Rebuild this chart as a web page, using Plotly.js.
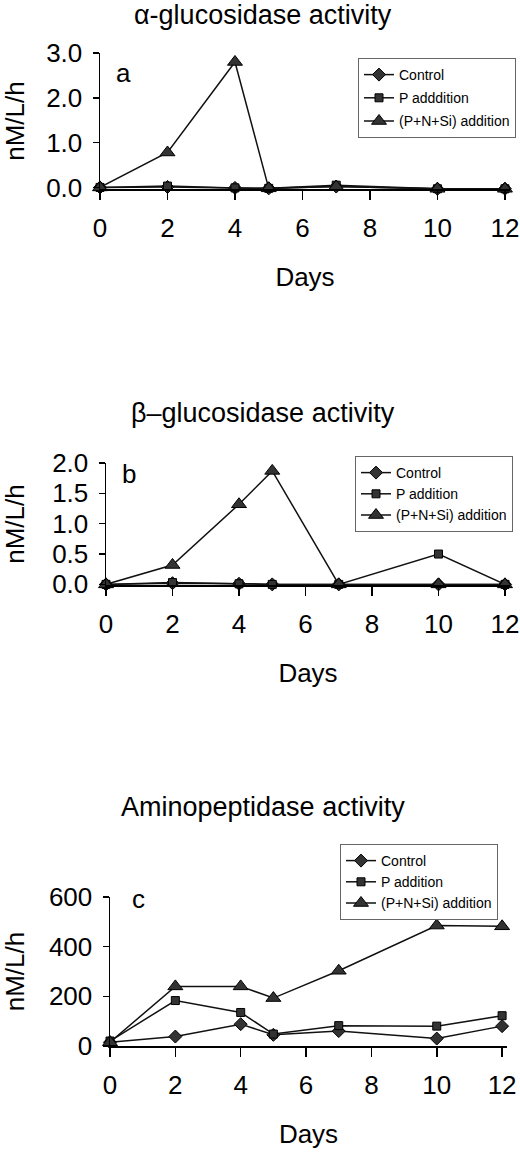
<!DOCTYPE html>
<html>
<head>
<meta charset="utf-8">
<script src="https://cdn.plot.ly/plotly-3.0.1.min.js"></script>
<style>
  body { margin: 0; background: #fff; }
  #chart { width: 520px; height: 1153px; }
</style>
</head>
<body>
<div id="chart"></div>
<script>
// sampling days (same for all three panels)
var days = [0, 2, 4, 5, 7, 10, 12];

// a: alpha-glucosidase
var alphaControl = [0, 0.01, -0.01, -0.02, 0.02, -0.03, -0.03];
var alphaP       = [0, 0.03, -0.01, -0.02, 0.05, -0.03, -0.03];
var alphaPNSi    = [0, 0.78, 2.80, -0.02, 0.02, -0.03, -0.03];

// b: beta-glucosidase
var betaControl = [0, 0.02, 0.01, 0, 0, 0, 0];
var betaP       = [0, 0.03, 0.01, 0, 0, 0.50, 0];
var betaPNSi    = [0, 0.32, 1.32, 1.87, 0, 0, 0];

// c: aminopeptidase
var aminoControl = [15, 38, 88, 45, 60, 30, 80];
var aminoP       = [20, 183, 135, 48, 82, 80, 122];
var aminoPNSi    = [15, 240, 240, 193, 303, 485, 482];

var legendNames = {
  a: ['Control', 'P adddition', '(P+N+Si) addition'],
  b: ['Control', 'P addition', '(P+N+Si) addition'],
  c: ['Control', 'P addition', '(P+N+Si) addition']
};

var W = 520, H = 1153;
function px(x) { return x / W; }
function py(y) { return 1 - y / H; }

var FONT = 'Liberation Sans, Arial, sans-serif';
var symbols = ['diamond', 'square', 'triangle-up'];
var sizes = [10, 8, 13];

function makeTraces(series, names, n) {
  var xa = n === 1 ? 'x' : 'x' + n;
  var ya = n === 1 ? 'y' : 'y' + n;
  var lg = n === 1 ? 'legend' : 'legend' + n;
  return series.map(function (vals, i) {
    return {
      x: days,
      y: vals,
      name: names[i],
      type: 'scatter',
      mode: 'lines+markers',
      xaxis: xa,
      yaxis: ya,
      legend: lg,
      // one group per trace so the legend gap can be tuned per panel
      legendgroup: 'p' + n + 'g' + i,
      cliponaxis: false,
      line: {color: '#111', width: 1.5},
      marker: {symbol: symbols[i], size: sizes[i], color: '#333', line: {color: '#000', width: 1}}
    };
  });
}

var data = []
  .concat(makeTraces([alphaControl, alphaP, alphaPNSi], legendNames.a, 1))
  .concat(makeTraces([betaControl, betaP, betaPNSi], legendNames.b, 2))
  .concat(makeTraces([aminoControl, aminoP, aminoPNSi], legendNames.c, 3));

function xAxis(left, right, anchor) {
  return {
    domain: [px(left), px(right)],
    anchor: anchor,
    range: [0, 12.15],
    tickvals: [0, 2, 4, 6, 8, 10, 12],
    ticks: 'outside',
    ticklen: 9,
    tickwidth: 1.5,
    tickcolor: '#000',
    ticklabelstandoff: 6,
    showline: true,
    linecolor: '#000',
    linewidth: 1.5,
    showgrid: false,
    zeroline: false,
    tickfont: {family: FONT, size: 26, color: '#000'},
    title: {text: 'Days', font: {family: FONT, size: 26, color: '#000'}, standoff: 26}
  };
}

function yAxis(top, bottom, anchor, range, tickvals, fmt) {
  return {
    domain: [py(bottom), py(top)],
    anchor: anchor,
    range: range,
    tickvals: tickvals,
    tickformat: fmt,
    ticks: 'outside',
    ticklen: 6,
    tickwidth: 1.5,
    tickcolor: '#000',
    ticklabelstandoff: 5,
    showline: true,
    linecolor: '#000',
    linewidth: 1.5,
    showgrid: false,
    zeroline: false,
    tickfont: {family: FONT, size: 26, color: '#000'},
    title: {text: 'nM/L/h', font: {family: FONT, size: 26, color: '#000'}, standoff: 22}
  };
}

function legendBox(x, y, gap) {
  return {
    x: px(x), y: py(y),
    xanchor: 'left', yanchor: 'top',
    bgcolor: '#fff',
    bordercolor: '#666',
    borderwidth: 1,
    tracegroupgap: gap,
    font: {family: FONT, size: 14, color: '#000'},
    itemwidth: 30
  };
}

function titleNote(text, y) {
  return {
    text: text, xref: 'paper', yref: 'paper', x: px(263), y: py(y),
    xanchor: 'center', yanchor: 'middle', showarrow: false,
    font: {family: FONT, size: 27, color: '#000'}
  };
}

function panelNote(text, x, y) {
  return {
    text: text, xref: 'paper', yref: 'paper', x: px(x), y: py(y),
    xanchor: 'center', yanchor: 'middle', showarrow: false,
    font: {family: FONT, size: 26, color: '#000'}
  };
}

var layout = {
  width: W,
  height: H,
  margin: {l: 0, r: 0, t: 0, b: 0},
  paper_bgcolor: '#fff',
  plot_bgcolor: '#fff',
  xaxis: xAxis(100, 510, 'y'),
  yaxis: yAxis(53, 189, 'x', [-0.035, 3.0], [0, 1, 2, 3], '.1f'),
  xaxis2: xAxis(106, 510, 'y2'),
  yaxis2: yAxis(463, 585, 'x2', [-0.01, 2.0], [0, 0.5, 1, 1.5, 2], '.1f'),
  xaxis3: xAxis(110, 507, 'y3'),
  yaxis3: yAxis(897, 1046, 'x3', [0, 600], [0, 200, 400, 600], 'd'),
  legend: legendBox(358, 58, 2),
  legend2: legendBox(355, 456, 0),
  legend3: legendBox(340, 844, 0),
  showlegend: true,
  annotations: [
    titleNote('\u03b1-glucosidase activity', 15),
    titleNote('\u03b2\u2013glucosidase activity', 413),
    titleNote('Aminopeptidase activity', 807),
    panelNote('a', 123, 73),
    panelNote('b', 129, 474),
    panelNote('c', 138, 899)
  ]
};

Plotly.newPlot('chart', data, layout, {displayModeBar: false, staticPlot: true});
</script>
</body>
</html>
